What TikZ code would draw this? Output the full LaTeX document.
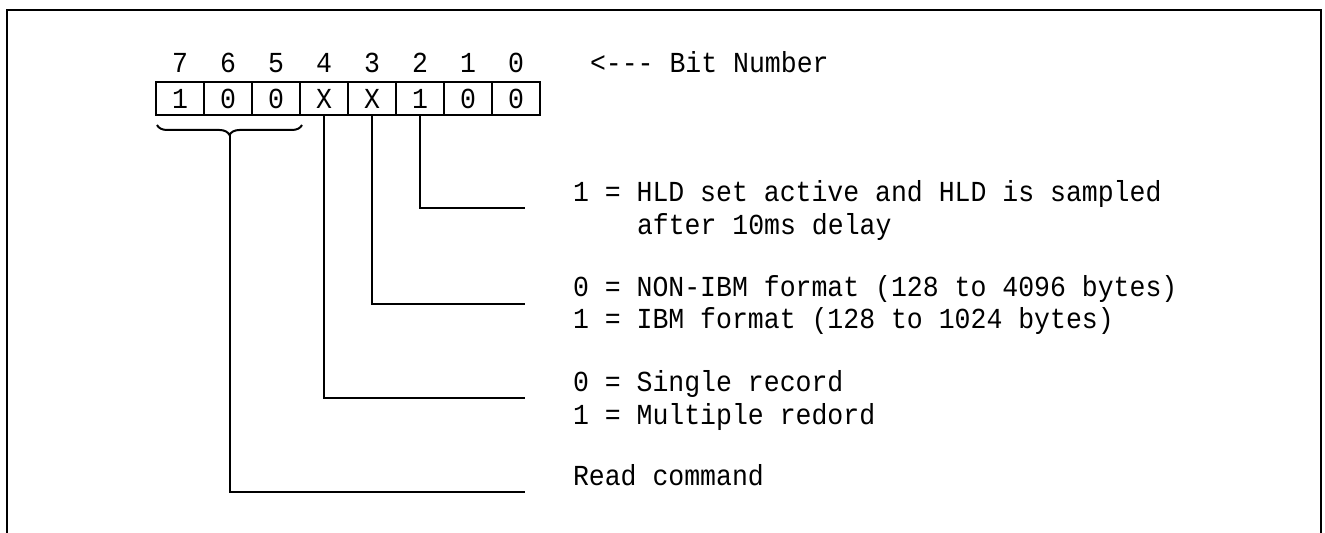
\documentclass[tikz,border=0pt]{standalone}
\usepackage{fontspec}
\newfontfamily\dumpfont{Liberation Mono}[FakeStretch=0.914]
\usetikzlibrary{decorations.pathreplacing}
\tikzset{
	regfont/.style={font=\fontsize{14.5pt}{16.5pt}\selectfont\dumpfont},
	bitcell/.style={draw, regfont, minimum width=24pt, minimum height=16.5pt, inner sep=0pt},
	bitno/.style={regfont, anchor=base, inner sep=0pt},
	note/.style={regfont, anchor=base west, inner sep=0pt}
}

\begin{document}
\begin{tikzpicture}[x=0.5pt, y=-0.5pt, line width=1pt]
\useasboundingbox (0,0) rectangle (1325,533);
\draw[line width=1.2pt] (7,533) -- (7,10) -- (1321,10) -- (1321,533);

\foreach \b/\v in {7/1,6/0,5/0,4/X,3/X,2/1,1/0,0/0} {
	\node[bitcell] (c\b) at ({180+48*(7-\b)},98.5) {\v};
	\node[bitno] (b\b) at ({180+48*(7-\b)},73) {\b};
}
\node[note] (bn) at (589,73) {<{-}{-}{-} Bit Number};

\node[note] (t2a) at (572,202) {1 = HLD set active and HLD is sampled};
\node[note] (t2b) at (636,235) {after 10ms delay};
\node[note] (t3a) at (572,297) {0 = NON-IBM format (128 to 4096 bytes)};
\node[note] (t3b) at (572,329) {1 = IBM format (128 to 1024 bytes)};
\node[note] (t4a) at (572,392) {0 = Single record};
\node[note] (t4b) at (572,424) {1 = Multiple redord};
\node[note] (t7) at (572,485) {Read command};

\coordinate (e2) at (525,208);
\coordinate (e3) at (525,304);
\coordinate (e4) at (525,398);
\coordinate (e7) at (525,492);
\coordinate (bt) at (229.5,135);

\draw (c2.south) |- (e2);
\draw (c3.south) |- (e3);
\draw (c4.south) |- (e4);
\draw[decorate, decoration={brace, amplitude=5pt}] (302,125) -- (157,125);
\draw (bt) |- (e7);
\end{tikzpicture}
\end{document}
